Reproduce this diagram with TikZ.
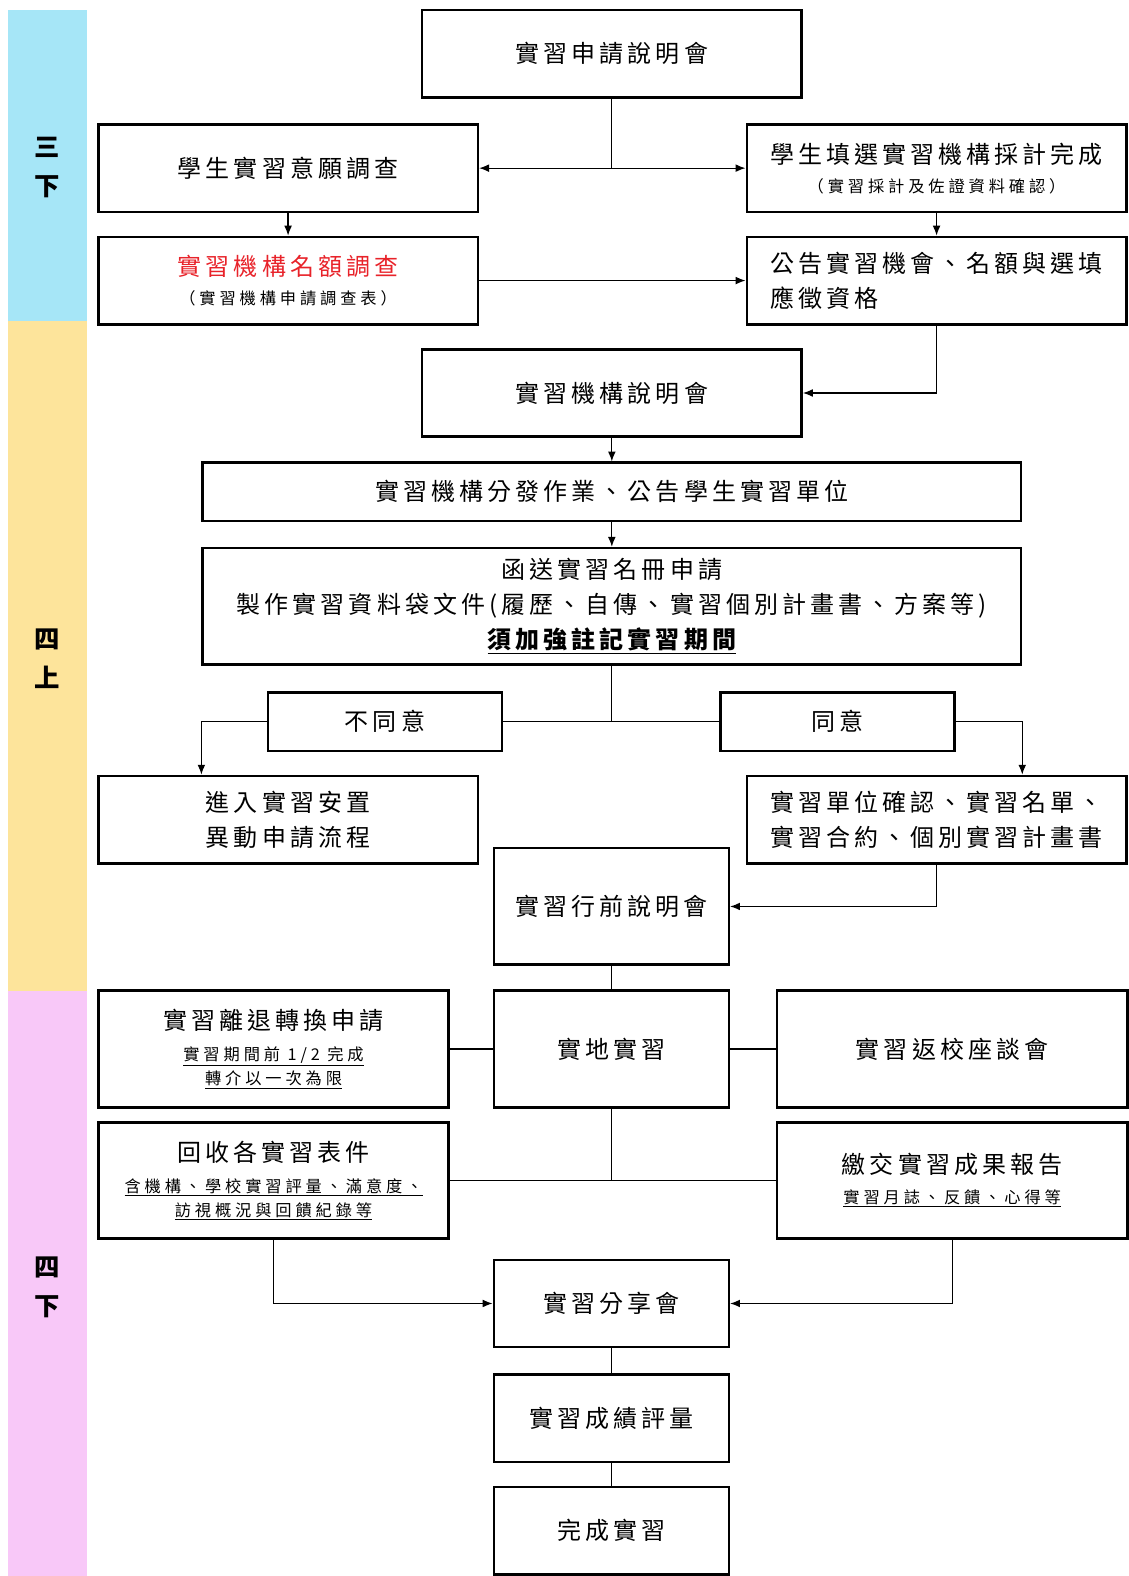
\documentclass[tikz,border=0pt]{standalone}
\usepackage{fontspec}
\usepackage{tikz}
\usetikzlibrary{arrows.meta}

\newfontfamily\cjkbig[LetterSpace=17]{Noto Sans CJK TC}
\newfontfamily\cjksmall[LetterSpace=24]{Noto Sans CJK TC}
\newfontfamily\cjkterm{Noto Sans CJK TC}
\newcommand{\bigtxt}{\cjkbig\fontsize{17}{24.9}\selectfont}
\newcommand{\smalltxt}{\cjksmall\fontsize{11.5}{17}\selectfont}

\definecolor{bandblue}{HTML}{A6E6F7}
\definecolor{bandyellow}{HTML}{FDE49B}
\definecolor{bandpink}{HTML}{F8C8F8}
\definecolor{quotared}{HTML}{E8232A}

\tikzset{
  box/.style={draw, line width=1.8pt, inner sep=0pt, align=center, font=\bigtxt},
  wide/.style={box, minimum width=9.45cm, minimum height=2.175cm},
  full/.style={box, minimum width=20.375cm},
  half/.style={box, minimum width=8.725cm, minimum height=2.9cm},
  mid/.style={box, minimum width=5.85cm},
  choice/.style={box, minimum width=5.825cm, minimum height=1.45cm},
  twoline/.style={font=\smalltxt}, % small second lines set the line distance
  term/.style={align=center, font=\cjkterm\bfseries\fontsize{18}{27.7}\selectfont},
  link/.style={line width=0.9pt}
}

\begin{document}
\begin{tikzpicture}[x=0.025cm,y=-0.025cm,>={Latex[length=7pt,width=5.5pt]}]
\useasboundingbox (0,0) rectangle (1124,1570);

% side bands for the terms
\fill[bandblue] (8,10) rectangle (87,320);
\fill[bandyellow] (8,320) rectangle (87,987);
\fill[bandpink] (8,987) rectangle (87,1576);
\node[term] (t1) at (47.5,167) {三\\下};
\node[term] (t2) at (47.5,656) {四\\上};
\node[term] (t3) at (47.5,1282) {四\\下};

% third year, second term
\node[wide] (apply) at (609.5,53.5) {實習申請說明會};
\node[wide] (wish) at (287,167.5) {學生實習意願調查};
\node[wide,twoline] (pick) at (933,167.5) {{\bigtxt 學生填選實習機構採計完成}\\[3.5pt]（實習採計及佐證資料確認）};
\node[wide,twoline] (quota) at (287,279.5) {{\bigtxt\color{quotared}實習機構名額調查}\\[3pt]（實習機構申請調查表）};
\node[wide,align=left] (notice) at (933,279.5) {公告實習機會、名額與選填\\應徵資格};

% fourth year, first term
\node[wide] (orgtalk) at (609.5,391.5) {實習機構說明會};
\node[full,minimum height=1.45cm] (assign) at (609.5,490) {實習機構分發作業、公告學生實習單位};
\node[full,minimum height=2.9cm] (roster) at (609.5,604) {函送實習名冊申請\\製作實習資料袋文件(履歷、自傳、實習個別計畫書、方案等)\\\textbf{\underline{須加強註記實習期間}}};
\node[choice] (no) at (383.5,719) {不同意};
\node[choice] (yes) at (834.5,719) {同意};
\node[wide] (change) at (287,816.5) {進入實習安置\\異動申請流程};
\node[wide] (confirm) at (933,816.5) {實習單位確認、實習名單、\\實習合約、個別實習計畫書};
\node[mid,minimum height=2.9cm] (brief) at (609,903) {實習行前說明會};

% fourth year, second term
\node[half,twoline] (leave) at (272.5,1045) {{\bigtxt 實習離退轉換申請}\\[5pt]\underline{實習期間前 1/2 完成}\\\underline{轉介以一次為限}};
\node[mid,minimum height=2.9cm] (field) at (609,1045) {實地實習};
\node[half] (back) at (948.5,1045) {實習返校座談會};
\node[half,twoline] (forms) at (272.5,1176) {{\bigtxt 回收各實習表件}\\[5pt]\underline{含機構、學校實習評量、滿意度、}\\\underline{訪視概況與回饋紀錄等}};
\node[half,twoline] (report) at (948.5,1176) {{\bigtxt 繳交實習成果報告}\\[4pt]\underline{實習月誌、反饋、心得等}};
\node[mid,minimum height=2.175cm] (share) at (609,1298.5) {實習分享會};
\node[mid,minimum height=2.175cm] (grade) at (609,1413) {實習成績評量};
\node[mid,minimum height=2.175cm] (done) at (609,1525) {完成實習};

% connectors
\draw[link] (apply.south) -- (apply.south |- wish.east);
\draw[link,<->] (wish.east) -- (pick.west);
\draw[link,->] (wish) -- (quota);
\draw[link,->] (pick) -- (notice);
\draw[link,->] (quota) -- (notice);
\draw[link,->] (notice.south) |- (orgtalk.east);
\draw[link,->] (orgtalk) -- (assign);
\draw[link,->] (assign) -- (roster);
\draw[link] (roster.south) -- (roster.south |- no.east);
\draw[link] (no.east) -- (yes.west);
\draw[link,->] (no.west) -| (change.north -| roster.west);
\draw[link,->] (yes.east) -| (confirm.north -| roster.east);
\draw[link,->] (confirm.south) |- (brief.east);
\draw[link] (brief) -- (field);
\draw[link] (leave) -- (field);
\draw[link] (field) -- (back);
\draw[link] (field.south) -- (field.south |- forms.east);
\draw[link] (forms.east) -- (report.west);
\draw[link,->] (forms.south) |- (share.west);
\draw[link,->] (report.south) |- (share.east);
\draw[link] (share) -- (grade);
\draw[link] (grade) -- (done);
\end{tikzpicture}
\end{document}
